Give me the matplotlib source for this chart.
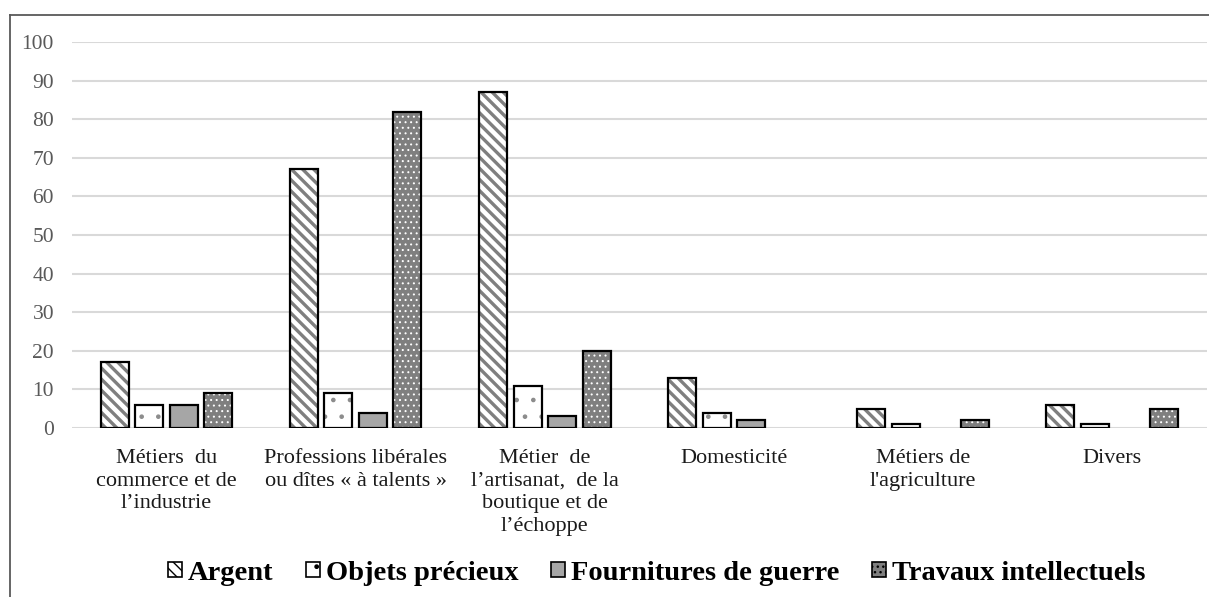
import matplotlib
matplotlib.use("Agg")
import matplotlib.pyplot as plt
import numpy as np
from matplotlib.patches import Patch
from matplotlib.lines import Line2D

categories = [
    "Métiers  du\ncommerce et de\nl\u2019industrie",
    "Professions libérales\nou dîtes « à talents »",
    "Métier  de\nl\u2019artisanat,  de la\nboutique et de\nl\u2019échoppe",
    "Domesticité",
    "Métiers de\nl'agriculture",
    "Divers",
]
series_names = ["Argent", "Objets précieux", "Fournitures de guerre", "Travaux intellectuels"]
argent = [17, 67, 87, 13, 5, 6]
objets = [6, 9, 11, 4, 1, 1]
fournitures = [6, 4, 3, 2, 0, 0]
travaux = [9, 82, 20, 0, 2, 5]
yticks = [0, 10, 20, 30, 40, 50, 60, 70, 80, 90, 100]

# (face colour, hatch colour, hatch pattern, hatch line width)
styles = [
    ("white", "#7f7f7f", "\\\\\\", 2.4),
    ("white", "#8c8c8c", ".", 0.9),
    ("#a6a6a6", "#a6a6a6", "", 1.0),
    ("#7f7f7f", "white", "...", 0.7),
]

plt.rcParams["font.family"] = ["Liberation Serif", "DejaVu Serif"]


def hatched(artist, lw):
    if hasattr(artist, "set_hatch_linewidth"):
        artist.set_hatch_linewidth(lw)


fig = plt.figure(figsize=(12.09, 5.97), dpi=100)
ax = fig.add_axes([0.0596, 0.283, 0.9384, 0.6466])

x = np.arange(len(categories))
step = 0.1825
width = 0.148
values = [argent, objets, fournitures, travaux]
for k, (vals, (fc, hc, hatch, hlw)) in enumerate(zip(values, styles)):
    pos = x + (k - 1.5) * step
    with plt.rc_context({"hatch.linewidth": hlw}):
        bars = ax.bar(pos, vals, width, color=fc, edgecolor=hc, hatch=hatch, linewidth=0, zorder=3)
        for b in bars:
            hatched(b, hlw)
    edges = ["black" if v > 0 else "none" for v in vals]
    ax.bar(pos, vals, width, fill=False, edgecolor=edges, linewidth=1.6, zorder=4)

ax.set_xlim(-0.5, len(categories) - 0.5)
ax.set_ylim(0, 100)
ax.set_yticks(yticks)
ax.yaxis.grid(True, color="#d9d9d9", linewidth=1.5, zorder=0)
ax.set_axisbelow(True)
for s in ax.spines.values():
    s.set_visible(False)
ax.tick_params(axis="y", length=0, pad=13, labelsize=15.5, labelcolor="#595959")
ax.set_xticks(x)
ax.set_xticklabels(categories, fontsize=16, color="#1a1a1a", linespacing=1.27)
ax.tick_params(axis="x", length=0, pad=15)

with plt.rc_context({"hatch.linewidth": 1.0}):
    handles = [Patch(facecolor=fc, edgecolor=hc, hatch=h, linewidth=0) for fc, hc, h, _ in styles]
    leg = fig.legend(handles, series_names, loc="center", bbox_to_anchor=(0.543, 0.04), ncol=4,
                     frameon=False, prop={"weight": "bold", "size": 20.5}, handlelength=0.5,
                     handleheight=0.4, handletextpad=0.2, columnspacing=1.15)
for p in leg.get_patches():
    p.set_edgecolor("black")
    p.set_linewidth(1.2)

# outer frame
fig.add_artist(Line2D([0.0083, 0.0083], [0.0, 0.975], transform=fig.transFigure, color="#595959", linewidth=1.3))
fig.add_artist(Line2D([0.0083, 1.0], [0.975, 0.975], transform=fig.transFigure, color="#595959", linewidth=1.3))

fig.savefig("out.png", dpi=100)
